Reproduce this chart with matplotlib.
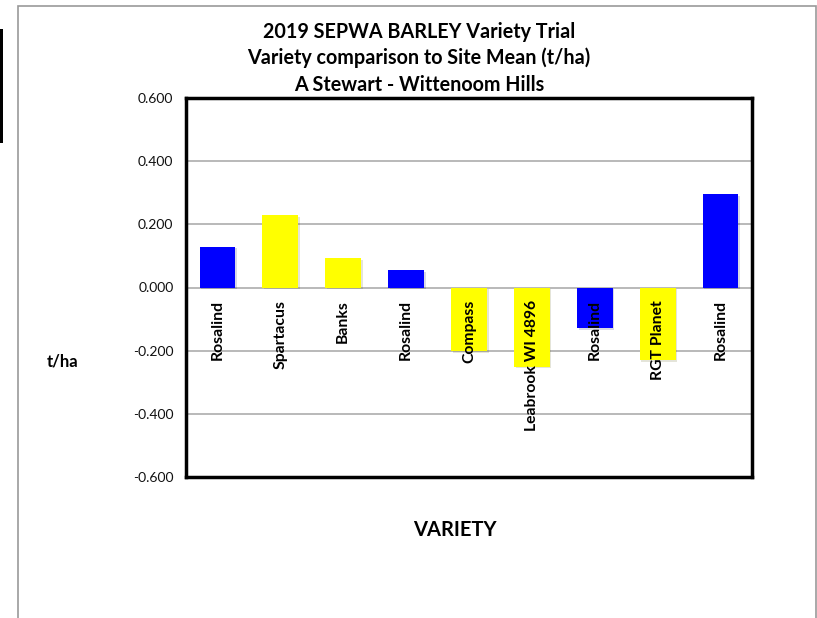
import matplotlib
matplotlib.use("Agg")
import matplotlib.pyplot as plt
import matplotlib.patheffects as pe
from matplotlib.patches import Rectangle

varieties = ["Rosalind", "Spartacus", "Banks", "Rosalind", "Compass",
             "Leabrook WI 4896", "Rosalind", "RGT Planet", "Rosalind"]
values = [0.129, 0.229, 0.092, 0.055, -0.201, -0.251, -0.128, -0.230, 0.295]
colors = ["#0000FF", "#FFFF00", "#FFFF00", "#0000FF", "#FFFF00",
          "#FFFF00", "#0000FF", "#FFFF00", "#0000FF"]
yticks = [-0.6, -0.4, -0.2, 0.0, 0.2, 0.4, 0.6]
title_lines = ["2019 SEPWA BARLEY Variety Trial",
               "Variety comparison to Site Mean (t/ha)",
               "A Stewart - Wittenoom Hills"]

plt.rcParams['font.family'] = ['Lato', 'DejaVu Sans']

W, H = 817, 618
fig = plt.figure(figsize=(W / 100, H / 100), dpi=100)
fig.patch.set_facecolor("white")

# outer chart border
fig.add_artist(Rectangle((18 / W, -0.05), (816 - 18) / W, 1.05 - 6 / H,
                         transform=fig.transFigure, fill=False,
                         edgecolor="#999999", linewidth=1.2))
# black bar at left edge
fig.add_artist(Rectangle((0, 1 - 143 / H), 3 / W, (143 - 29) / H,
                         transform=fig.transFigure, facecolor="black",
                         edgecolor="none"))

ax = fig.add_axes([186 / W, 1 - 477 / H, (752 - 186) / W, (477 - 98) / H])
x = list(range(len(values)))
bars = ax.bar(x, values, width=0.57, color=colors, zorder=3)
for b in bars:
    b.set_path_effects([pe.SimplePatchShadow(offset=(1.2, -1.2), alpha=0.15),
                        pe.Normal()])

ax.set_xlim(-0.5, len(values) - 0.5)
ax.set_ylim(-0.6, 0.6)
ax.set_yticks(yticks)
ax.set_yticklabels([f"{v:.3f}" for v in yticks], fontsize=10, color="#111111")
ax.tick_params(axis='y', length=0, pad=9)
ax.set_xticks([])
for yv in yticks[1:-1]:
    ax.axhline(yv, color="#a6a6a6", linewidth=1.1, zorder=1)

for s in ax.spines.values():
    s.set_linewidth(2.5)
    s.set_color("black")

for xi, name in zip(x, varieties):
    ax.annotate(name, xy=(xi, 0), xytext=(0, -9), textcoords="offset points",
                rotation=90, ha="center", va="top", fontsize=11.3,
                fontweight="bold", zorder=5)

baselines = [37.7, 64.3, 90.7]
for line, yb in zip(title_lines, baselines):
    fig.text(419 / W, 1 - yb / H, line, ha="center", va="baseline",
             fontsize=14.2, fontweight="bold")

fig.text(455 / W, 1 - 536 / H, "VARIETY", ha="center", va="baseline",
         fontsize=14.5, fontweight="bold")
fig.text(63 / W, 1 - 366.5 / H, "t/ha", ha="center", va="baseline",
         fontsize=12, fontweight="bold")

fig.savefig("out.png", dpi=100, facecolor="white")
